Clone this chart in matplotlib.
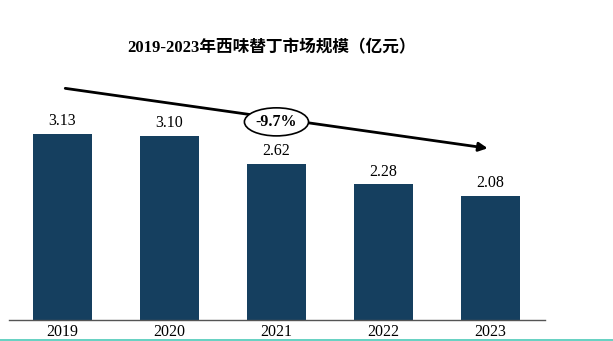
import numpy as np
import matplotlib
matplotlib.use("Agg")
import matplotlib.pyplot as plt

# data
years = ["2019", "2020", "2021", "2022", "2023"]
sizes = [3.13, 3.10, 2.62, 2.28, 2.08]
cagr_label = "-9.7%"
title = "2019-2023年西味替丁市场规模（亿元）"

plt.rcParams['font.family'] = ['Liberation Serif', 'Noto Sans CJK SC', 'DejaVu Sans']

W, H = 613, 341
fig = plt.figure(figsize=(W/100, H/100), dpi=100)

ax = fig.add_axes([9/W, 21/H, 536/W, 300/H])
x = np.arange(len(years))
ax.bar(x, sizes, width=0.556, color='#153f5f', zorder=2)
for xi, v in zip(x, sizes):
    ax.text(xi, v + 0.08, f"{v:.2f}", ha='center', va='bottom', fontsize=11.5)

ax.set_xlim(-0.5, 4.51)
ax.set_ylim(0, 300/59.5)
ax.set_xticks(x)
ax.set_xticklabels(years, fontsize=11.5)
ax.tick_params(axis='x', length=0, pad=3)
ax.set_yticks([])
for s in ['top', 'right', 'left']:
    ax.spines[s].set_visible(False)
ax.spines['bottom'].set_color('#555555')
ax.spines['bottom'].set_linewidth(1.0)

# trend arrow
ax.annotate("", xy=(4.0, 2.88), xytext=(0.0, 3.9),
            arrowprops=dict(arrowstyle='-|>', lw=2, color='black', mutation_scale=13),
            annotation_clip=False)
ax.text(2.0, 3.33, cagr_label, ha='center', va='center', fontsize=11.5, fontweight='bold',
        bbox=dict(boxstyle='ellipse,pad=0.12', fc='white', ec='black', lw=1.2), zorder=5)

fig.text(272/W, 1-48/H, title, ha='center', va='center', fontsize=12, fontweight='bold')

# teal line at the bottom
fig.add_artist(plt.Line2D([0, 1], [1.5/H, 1.5/H], color='#4cc9b8', lw=1.2))

fig.savefig("out.png", dpi=100)
